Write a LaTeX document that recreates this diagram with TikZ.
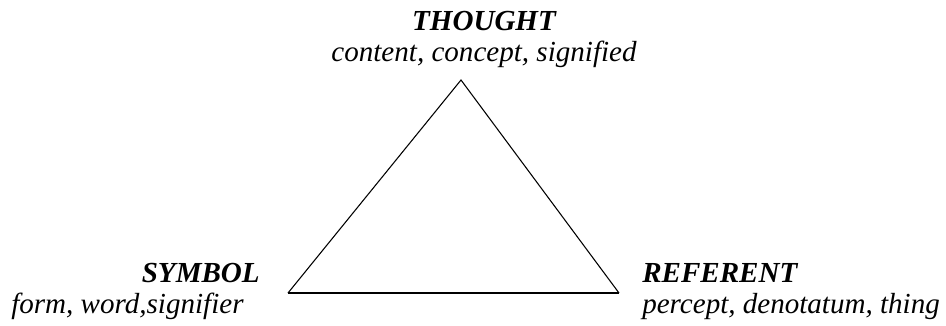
\documentclass[tikz,border=0pt]{standalone}
\usepackage{fontspec}
\setmainfont{Liberation Serif}

\begin{document}
\begin{tikzpicture}[
    x=0.75pt, y=-0.75pt,
    font=\fontsize{21.8}{24}\selectfont,
    title/.style={font=\fontsize{21.8}{24}\selectfont\bfseries\itshape, inner sep=0pt},
    sub/.style={font=\fontsize{21.8}{24}\selectfont\itshape, inner sep=0pt},
    side/.style={line width=0.8pt},
    base/.style={line width=1.6pt}
]
\useasboundingbox (0,0) rectangle (946,325);

% triangle corners
\coordinate (apex) at (461,80);
\coordinate (left) at (288,293);
\coordinate (right) at (619,293);

\node[title, anchor=base] (thought) at (484,30) {THOUGHT};
\node[sub, anchor=base] (content) at (484,61) {content, concept, signified};

\node[title, anchor=base east] (symbol) at (260,282) {SYMBOL};
\node[sub, anchor=base west] (form) at (11,313) {form, word,signifier};

\node[title, anchor=base west] (referent) at (642,282) {REFERENT};
\node[sub, anchor=base west] (percept) at (642,313) {percept, denotatum, thing};

\draw[side] (left) -- (apex) -- (right);
\draw[base] (left) -- (right);
\end{tikzpicture}
\end{document}
